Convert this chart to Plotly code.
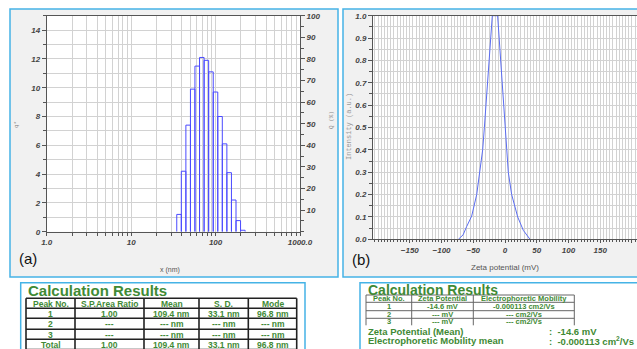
import plotly.graph_objects as go

W, H = 637, 349

# ---------------- data ----------------
size_edges_nm = [34.7, 39.3, 44.5, 50.4, 57.0, 64.6, 73.1, 82.8, 93.8, 106.2,
                 120.2, 136.1, 154.2, 174.6, 197.7, 223.9]
q_density = [1.2, 4.2, 7.4, 9.9, 11.5, 12.1, 11.9, 11.1, 9.7, 8.0,
             6.1, 4.1, 2.2, 0.77, 0.1]
size_tick_vals = [1, 10, 100, 1000]
size_tick_text = ["1.0", "10", "100", "1000.0"]
size_minor_vals = [2, 3, 4, 5, 6, 7, 8, 9, 20, 30, 40, 50, 60, 70, 80, 90,
                   200, 300, 400, 500, 600, 700, 800, 900]
q_tick_vals = [0, 2, 4, 6, 8, 10, 12, 14]
cum_tick_vals = [10, 20, 30, 40, 50, 60, 70, 80, 90, 100]

zeta_mv = [-73.5, -66.0, -60.4, -52.5, -44.6, -39.4, -35.2, -32.5, -29.9, -27.3,
           -25.2, -22.6, -20.0, -11.6, -8.9, -4.7, 2.6, 5.2, 10.5, 20.0, 28.9, 39.4]
zeta_intensity = [0.0, 0.02, 0.057, 0.104, 0.2, 0.3, 0.4, 0.5, 0.6, 0.7,
                  0.8, 0.9, 1.0, 1.0, 0.89, 0.68, 0.4, 0.3, 0.2, 0.1, 0.04, 0.0]
zeta_tick_vals = [-150, -100, -50, 0, 50, 100, 150, 200]
intensity_tick_vals = [0.0, 0.1, 0.2, 0.3, 0.4, 0.5, 0.6, 0.7, 0.8, 0.9, 1.0]
intensity_tick_text = ["0.0", "0.1", "0.2", "0.3", "0.4", "0.5", "0.6", "0.7", "0.8", "0.9", "1.0"]

size_table_header = ["Peak No.", "S.P.Area Ratio", "Mean", "S. D.", "Mode"]
size_table_rows = [
    ["1", "1.00", "109.4 nm", "33.1 nm", "96.8 nm"],
    ["2", "---", "--- nm", "--- nm", "--- nm"],
    ["3", "---", "--- nm", "--- nm", "--- nm"],
    ["Total", "1.00", "109.4 nm", "33.1 nm", "96.8 nm"],
]
zeta_table_header = ["Peak No.", "Zeta Potential", "Electrophoretic Mobility"]
zeta_table_rows = [
    ["1", "-14.6 mV", "-0.000113 cm2/Vs"],
    ["2", "--- mV", "--- cm2/Vs"],
    ["3", "--- mV", "--- cm2/Vs"],
]
zeta_summary_labels = ["Zeta Potential (Mean)", "Electrophoretic Mobility mean"]
zeta_summary_values = [":  -14.6 mV", ":  -0.000113 cm<sup>2</sup>/Vs"]

# ---------------- helpers ----------------
def X(px):
    return px / W

def Y(py):
    return 1 - py / H

GREEN = "#3f8a35"
BLUE_BORDER = "#45b3e6"
TICKFONT = dict(family="Liberation Sans", size=8, color="#444", style="italic", weight="bold")

# histogram outline built from the data
hx, hy = [], []
for i, h in enumerate(q_density):
    x0, x1 = size_edges_nm[i], size_edges_nm[i + 1]
    hx += [x0, x0, x1, x1, None]
    hy += [0, h, h, 0, None]

fig = go.Figure()
fig.add_trace(go.Scatter(x=hx, y=hy, mode="lines", line=dict(color="#4a4aff", width=1),
                         xaxis="x", yaxis="y", showlegend=False, hoverinfo="skip"))
fig.add_trace(go.Scatter(x=[], y=[], xaxis="x", yaxis="y3", showlegend=False))
fig.add_trace(go.Scatter(x=zeta_mv, y=zeta_intensity, mode="lines",
                         line=dict(color="#5a6cf0", width=1),
                         xaxis="x2", yaxis="y2", showlegend=False, hoverinfo="skip"))

GRID = "#d2d2d2"
AX = "#555"

shapes = []
# panels
shapes.append(dict(type="rect", xref="paper", yref="paper", x0=X(10), x1=X(338), y0=Y(277), y1=Y(9),
                   fillcolor="#f1f1f1", line=dict(color=BLUE_BORDER, width=1.5), layer="below"))
shapes.append(dict(type="rect", xref="paper", yref="paper", x0=X(343), x1=X(645), y0=Y(277), y1=Y(9),
                   fillcolor="#f1f1f1", line=dict(color=BLUE_BORDER, width=1.5), layer="below"))
# white plot areas
shapes.append(dict(type="rect", xref="paper", yref="paper", x0=X(46.7), x1=X(300), y0=Y(231.7), y1=Y(15.7),
                   fillcolor="white", line=dict(width=0), layer="below"))
shapes.append(dict(type="rect", xref="paper", yref="paper", x0=X(373), x1=X(637), y0=Y(239.3), y1=Y(15.7),
                   fillcolor="white", line=dict(width=0), layer="below"))
# table boxes
shapes.append(dict(type="rect", xref="paper", yref="paper", x0=X(20.7), x1=X(305), y0=Y(355), y1=Y(282.7),
                   fillcolor="white", line=dict(color=BLUE_BORDER, width=1.5), layer="below"))
shapes.append(dict(type="rect", xref="paper", yref="paper", x0=X(360), x1=X(645), y0=Y(355), y1=Y(282.7),
                   fillcolor="white", line=dict(color=BLUE_BORDER, width=1.5), layer="below"))

annotations = []

# ---- left table ----
lcols = [26, 75, 144, 199, 248.3, 296.7]
lrows = [298.3, 308.3, 318.3, 329.3, 339.3, 349.5]
for cx in lcols:
    shapes.append(dict(type="line", xref="paper", yref="paper", x0=X(cx), x1=X(cx), y0=Y(lrows[0]), y1=Y(355),
                       line=dict(color="#222", width=1.6)))
for ry in lrows:
    shapes.append(dict(type="line", xref="paper", yref="paper", x0=X(lcols[0]), x1=X(lcols[-1]), y0=Y(ry), y1=Y(ry),
                       line=dict(color="#222", width=1.6)))
all_rows = [size_table_header] + size_table_rows
for r, row in enumerate(all_rows):
    cy = (lrows[r] + lrows[r + 1]) / 2
    for c, txt in enumerate(row):
        cx = (lcols[c] + lcols[c + 1]) / 2
        annotations.append(dict(xref="paper", yref="paper", x=X(cx), y=Y(cy + 0.3), text=txt,
                                showarrow=False, xanchor="center", yanchor="middle",
                                font=dict(family="Liberation Sans", size=8.5, color=GREEN, weight=600)))
annotations.append(dict(xref="paper", yref="paper", x=X(26), y=Y(290), text="<b>Calculation Results</b>",
                        showarrow=False, xanchor="left", yanchor="middle",
                        font=dict(family="Liberation Sans", size=15, color=GREEN)))

# ---- right table ----
rcols = [366, 411.7, 473.3, 574.3]
rrows = [295, 302.3, 310.7, 318.3, 325.3]
for cx in rcols:
    shapes.append(dict(type="line", xref="paper", yref="paper", x0=X(cx), x1=X(cx), y0=Y(rrows[0]), y1=Y(rrows[-1]),
                       line=dict(color="#666", width=1)))
for ry in rrows[:-1]:
    shapes.append(dict(type="line", xref="paper", yref="paper", x0=X(rcols[0]), x1=X(rcols[-1]), y0=Y(ry), y1=Y(ry),
                       line=dict(color="#666", width=1)))
all_rows = [zeta_table_header] + zeta_table_rows
for r, row in enumerate(all_rows):
    cy = (rrows[r] + rrows[r + 1]) / 2
    for c, txt in enumerate(row):
        cx = (rcols[c] + rcols[c + 1]) / 2
        annotations.append(dict(xref="paper", yref="paper", x=X(cx), y=Y(cy), text="<b>%s</b>" % txt,
                                showarrow=False, xanchor="center", yanchor="middle",
                                font=dict(family="Liberation Sans", size=7.5, color=GREEN)))
annotations.append(dict(xref="paper", yref="paper", x=X(365.5), y=Y(289.5), text="<b>Calculation Results</b>",
                        showarrow=False, xanchor="left", yanchor="middle",
                        font=dict(family="Liberation Sans", size=14, color=GREEN)))
for i, (lab, val) in enumerate(zip(zeta_summary_labels, zeta_summary_values)):
    yy = 331 + 9.7 * i
    annotations.append(dict(xref="paper", yref="paper", x=X(365.5), y=Y(yy), text="<b>%s</b>" % lab,
                            showarrow=False, xanchor="left", yanchor="middle",
                            font=dict(family="Liberation Sans", size=9.5, color=GREEN)))
    annotations.append(dict(xref="paper", yref="paper", x=X(547), y=Y(yy), text="<b>%s</b>" % val,
                            showarrow=False, xanchor="left", yanchor="middle",
                            font=dict(family="Liberation Sans", size=9.5, color=GREEN)))

# ---- chart labels ----
def label(px, py, text, size, color, family="Liberation Sans", angle=0):
    return dict(xref="paper", yref="paper", x=X(px), y=Y(py), text=text, showarrow=False,
                xanchor="center", yanchor="middle", textangle=angle,
                font=dict(family=family, size=size, color=color))

annotations += [
    label(170, 270, "x (nm)", 7, "#555"),
    label(28, 258, "(a)", 15, "#111"),
    label(17, 125, "q*", 6, "#888", "Liberation Mono", -90),
    label(332, 120, "Q (%)", 6, "#888", "Liberation Mono", -90),
    label(505, 267, "Zeta potential (mV)", 8, "#555"),
    label(361, 259, "(b)", 15, "#111"),
    label(349, 127, "Intensity (a.u.)", 7, "#999", "Liberation Mono", -90),
]

fig.update_layout(
    width=W, height=H,
    margin=dict(l=0, r=0, t=0, b=0, autoexpand=False),
    paper_bgcolor="white", plot_bgcolor="white",
    font=dict(family="Liberation Sans"),
    showlegend=False,
    xaxis=dict(domain=[X(46.7), X(300)], anchor="y", type="log", range=[0, 3], automargin=False,
               tickmode="array", tickvals=size_tick_vals, ticktext=size_tick_text,
               showgrid=True, gridcolor=GRID, gridwidth=1,
               showline=True, linecolor=AX, linewidth=1, mirror=True,
               ticks="outside", ticklen=3, tickcolor=AX, tickfont=TICKFONT,
               minor=dict(tickvals=size_minor_vals, showgrid=True, gridcolor=GRID, ticks="outside",
                          ticklen=3, tickcolor=AX),
               zeroline=False),
    yaxis=dict(domain=[Y(231.7), Y(15.7)], anchor="x", range=[0, 15], automargin=False,
               tickmode="array", tickvals=q_tick_vals,
               showgrid=True, gridcolor=GRID,
               showline=True, linecolor=AX, linewidth=1, mirror=True,
               ticks="outside", ticklen=4, tickcolor=AX, tickfont=TICKFONT,
               minor=dict(dtick=1, showgrid=True, gridcolor=GRID, ticks="outside", ticklen=3, tickcolor=AX),
               zeroline=False),
    yaxis3=dict(overlaying="y", anchor="x", side="right", range=[0, 100], automargin=False,
                tickmode="array", tickvals=cum_tick_vals,
                showgrid=False, showline=True, linecolor=AX,
                ticks="outside", ticklen=4, tickcolor=AX, tickfont=TICKFONT,
                minor=dict(dtick=5, ticks="outside", ticklen=3, tickcolor=AX),
                zeroline=False),
    xaxis2=dict(domain=[X(373), 1.0], anchor="y2", range=[-208, 208], automargin=False,
                tickmode="array", tickvals=zeta_tick_vals,
                showgrid=True, gridcolor=GRID,
                showline=True, linecolor=AX, linewidth=1, mirror=True,
                ticks="outside", ticklen=3, tickcolor=AX, tickfont=TICKFONT,
                minor=dict(dtick=5, showgrid=True, gridcolor=GRID, ticks="outside", ticklen=2, tickcolor=AX),
                zeroline=False),
    yaxis2=dict(domain=[Y(239.3), Y(15.7)], anchor="x2", range=[0, 1], automargin=False,
                tickmode="array", tickvals=intensity_tick_vals, ticktext=intensity_tick_text,
                showgrid=True, gridcolor=GRID,
                showline=True, linecolor=AX, linewidth=1, mirror=True,
                ticks="outside", ticklen=4, tickcolor=AX, tickfont=TICKFONT,
                minor=dict(dtick=0.05, showgrid=True, gridcolor=GRID, ticks="outside", ticklen=3, tickcolor=AX),
                zeroline=False),
    shapes=shapes,
    annotations=annotations,
)

fig.write_html("out.html", config={"displayModeBar": False},
               post_script="document.body.style.margin='0';document.body.style.overflow='hidden';")
